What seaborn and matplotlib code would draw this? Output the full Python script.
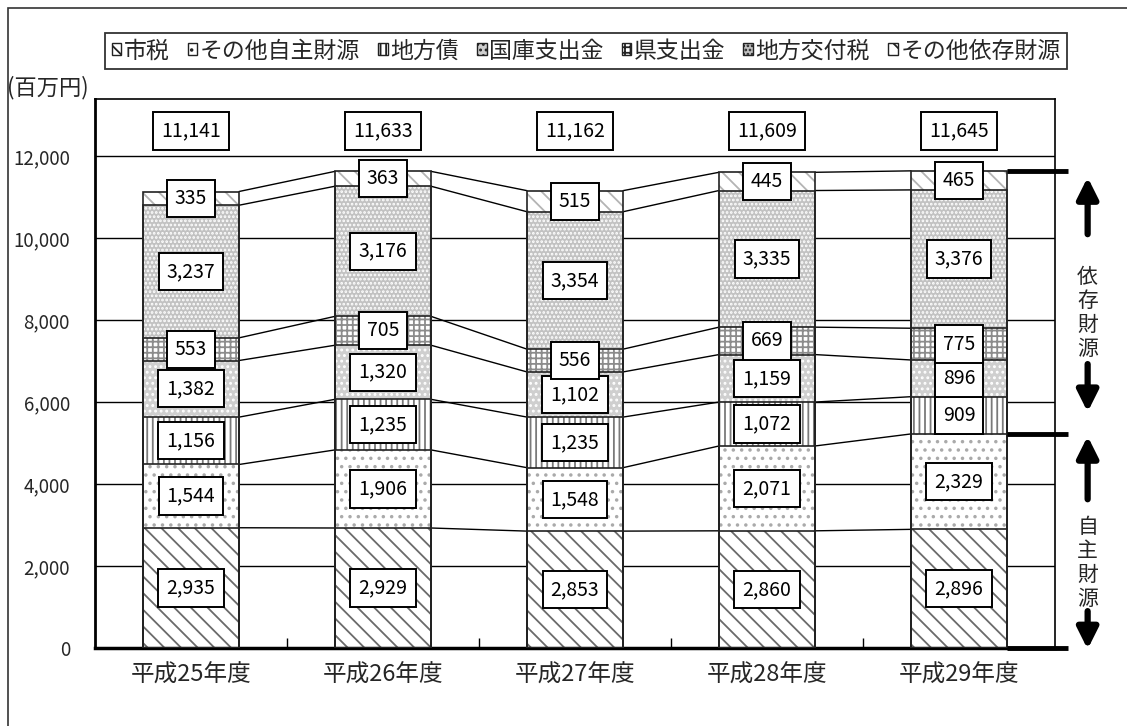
import matplotlib
matplotlib.use("Agg")
import matplotlib.pyplot as plt
from matplotlib.patches import Patch, Rectangle
import numpy as np
import seaborn as sns

# --- data (百万円) ---
years = ["平成25年度", "平成26年度", "平成27年度", "平成28年度", "平成29年度"]
sources = ["市税", "その他自主財源", "地方債", "国庫支出金", "県支出金", "地方交付税", "その他依存財源"]
city_tax = [2935, 2929, 2853, 2860, 2896]
other_own = [1544, 1906, 1548, 2071, 2329]
local_bonds = [1156, 1235, 1235, 1072, 909]
national_disb = [1382, 1320, 1102, 1159, 896]
pref_disb = [553, 705, 556, 669, 775]
local_alloc_tax = [3237, 3176, 3354, 3335, 3376]
other_dep = [335, 363, 515, 445, 465]
totals = [11141, 11633, 11162, 11609, 11645]
yticks = [0, 2000, 4000, 6000, 8000, 10000, 12000]

layers = [city_tax, other_own, local_bonds, national_disb, pref_disb, local_alloc_tax, other_dep]

# fill colour, hatch pattern, hatch colour for each layer (bottom to top)
styles = [
    ("white", "\\\\", "#6a6a6a"),
    ("white", "..", "#aaaaaa"),
    ("white", "|||", "#7a7a7a"),
    ("#cfcfcf", "...", "white"),
    ("white", "+++", "#8c8c8c"),
    ("#c2c2c2", "....", "white"),
    ("white", "\\\\", "#b4b4b4"),
]

sns.set_theme(style="white")
plt.rcParams["font.family"] = ["Noto Sans CJK JP", "DejaVu Sans"]
plt.rcParams["hatch.linewidth"] = 1.3

W, H = 1127, 726
fig = plt.figure(figsize=(W / 100, H / 100), dpi=100)
fig.patch.set_facecolor("white")


def fx(px):
    return px / W


def fy(py):
    return 1 - py / H


ax = fig.add_axes([fx(95), fy(648), fx(1055) - fx(95), fy(99) - fy(648)])
ax.set_facecolor("white")

cum = np.cumsum(np.array(layers), axis=0)
bar_w = 0.5

# gridlines
for t in yticks:
    ax.axhline(t, color="black", lw=1, zorder=0.5)

# stacked bars: draw cumulative heights from the top layer downwards
for k in range(len(layers) - 1, -1, -1):
    face, hatch, hcol = styles[k]
    sns.barplot(x=years, y=cum[k], color=face, saturation=1, width=bar_w,
                hatch=hatch, edgecolor=hcol, linewidth=0, errorbar=None,
                ax=ax, zorder=2)
# segment outlines
for k in range(len(layers) - 1, -1, -1):
    sns.barplot(x=years, y=cum[k], fill=False, width=bar_w, edgecolor="#222222",
                linewidth=1.2, errorbar=None, ax=ax, zorder=3)

# connector lines between neighbouring bars
n = len(years)
for k in range(len(layers)):
    for i in range(n - 1):
        ax.plot([i + bar_w / 2, i + 1 - bar_w / 2], [cum[k][i], cum[k][i + 1]],
                color="black", lw=1, zorder=2.5)

box = dict(boxstyle="square,pad=0.42", fc="white", ec="black", lw=1.4)
num_font = dict(fontsize=14, color="black")

# segment value labels
for k, vals in enumerate(layers):
    for i, v in enumerate(vals):
        mid = cum[k][i] - v / 2
        ax.text(i, mid, f"{v:,}", ha="center", va="center", bbox=box,
                zorder=5, **num_font)

# total labels
for i, t in enumerate(totals):
    ax.text(i, 12620, f"{t:,}", ha="center", va="center", bbox=box,
            zorder=5, **num_font)

ax.set_xlim(-0.5, n - 0.5)
ax.set_ylim(0, 13400)
ax.set_yticks(yticks)
ax.set_yticklabels([f"{t:,}" for t in yticks], fontsize=13.5)
ax.set_xticks(range(n))
ax.set_xticklabels(years, fontsize=17)
ax.set_xticks([i + 0.5 for i in range(n - 1)], minor=True)
ax.tick_params(axis="y", length=0, pad=18)
ax.tick_params(axis="x", which="major", length=0, pad=11)
ax.tick_params(axis="x", which="minor", direction="in", length=7, width=1, color="black", bottom=True)
ax.set_xlabel("")
ax.set_ylabel("")
for side, lw in [("left", 2), ("bottom", 2.5), ("right", 1.2), ("top", 1.2)]:
    ax.spines[side].set_visible(True)
    ax.spines[side].set_color("black")
    ax.spines[side].set_linewidth(lw)

# right-hand brackets for 自主財源 / 依存財源
own_top = cum[1][-1]
dep_top = cum[-1][-1]
for yv in [0, own_top, dep_top]:
    ax.plot([n - 1 + bar_w / 2, n - 0.43], [yv, yv], color="black", lw=3.5,
            solid_capstyle="butt", clip_on=False, zorder=4)

ax_x = n - 0.33
arrow = dict(arrowstyle="-|>,head_length=0.7,head_width=0.35", lw=4.5,
             color="black", shrinkA=0, shrinkB=0, mutation_scale=18)
ax.annotate("", xy=(ax_x, 11490), xytext=(ax_x, 10100), arrowprops=arrow,
            annotation_clip=False)
ax.annotate("", xy=(ax_x, 5760), xytext=(ax_x, 6930), arrowprops=arrow,
            annotation_clip=False)
ax.annotate("", xy=(ax_x, 5170), xytext=(ax_x, 3630), arrowprops=arrow,
            annotation_clip=False)
ax.annotate("", xy=(ax_x, -30), xytext=(ax_x, 900), arrowprops=arrow,
            annotation_clip=False)
ax.text(ax_x, 8180, "依\n存\n財\n源", ha="center", va="center", fontsize=15,
        linespacing=1.12, clip_on=False)
ax.text(ax_x, 2080, "自\n主\n財\n源", ha="center", va="center", fontsize=15,
        linespacing=1.12, clip_on=False)

# unit label
fig.text(fx(48), fy(88), "(百万円)", ha="center", va="center", fontsize=16)

# legend
handles = [Patch(facecolor=f, hatch=h, edgecolor="#222222", linewidth=1.0)
           for f, h, hc in styles]
leg = fig.legend(handles, sources, loc="center", bbox_to_anchor=(fx(586), fy(51)),
                 ncol=7, frameon=True, fancybox=False, fontsize=16.5,
                 handlelength=0.42, handleheight=0.42, handletextpad=0.12,
                 columnspacing=0.78, borderpad=0.3, borderaxespad=0)
leg.get_frame().set_edgecolor("black")
leg.get_frame().set_linewidth(1.3)

# outer frame
fig.add_artist(Rectangle((fx(8), -0.05), 1.2, fy(8) + 0.05, transform=fig.transFigure,
                         fill=False, ec="#333333", lw=1.2))

fig.savefig("out.png", dpi=100, facecolor="white")
